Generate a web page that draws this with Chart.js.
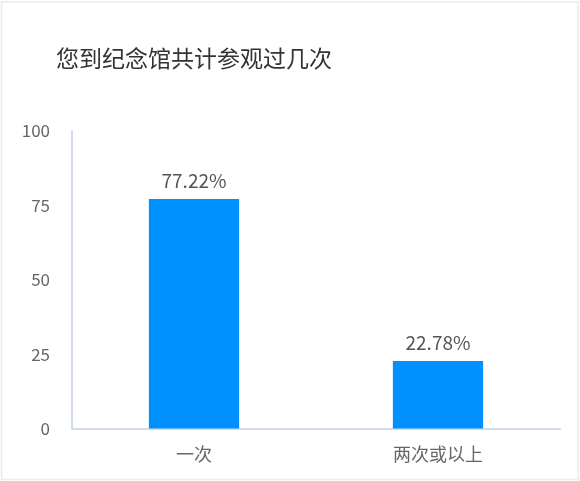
<!DOCTYPE html>
<html>
<head>
<meta charset="utf-8">
<script src="https://cdn.jsdelivr.net/npm/chart.js"></script>
<style>
  html, body { margin: 0; padding: 0; background: #fff; }
  #wrap { width: 580px; height: 481px; }
</style>
</head>
<body>
<div id="wrap"><canvas id="chart" width="580" height="481"></canvas></div>
<script>
const title = '您到纪念馆共计参观过几次';
const categories = ['一次', '两次或以上'];
const percents = [77.22, 22.78];
const yTicks = [0, 25, 50, 75, 100];

const cjk = '"Microsoft YaHei", "Noto Sans CJK SC", "Noto Sans", sans-serif';

// white card with a faint frame, plus the title
const framePlugin = {
  id: 'frame',
  beforeDraw(chart) {
    const ctx = chart.ctx;
    ctx.save();
    ctx.fillStyle = '#fff';
    ctx.fillRect(0, 0, chart.width, chart.height);
    ctx.strokeStyle = '#ececec';
    ctx.lineWidth = 1.5;
    ctx.strokeRect(1.5, 2, chart.width - 3.5, chart.height - 3.5);
    ctx.fillStyle = '#333';
    ctx.font = '23px ' + cjk;
    ctx.textBaseline = 'middle';
    ctx.fillText(title, 56, 58);
    ctx.restore();
  }
};

// percentage labels above the bars
const labelPlugin = {
  id: 'barLabels',
  afterDatasetsDraw(chart) {
    const ctx = chart.ctx;
    const meta = chart.getDatasetMeta(0);
    ctx.save();
    ctx.fillStyle = '#555';
    ctx.font = '19px ' + cjk;
    ctx.textAlign = 'center';
    ctx.textBaseline = 'bottom';
    meta.data.forEach((bar, i) => {
      ctx.fillText(percents[i].toFixed(2) + '%', bar.x, bar.y - 9);
    });
    ctx.restore();
  }
};

new Chart(document.getElementById('chart'), {
  type: 'bar',
  data: {
    labels: categories,
    datasets: [{
      data: percents,
      backgroundColor: '#0091ff',
      borderWidth: 0,
      categoryPercentage: 1,
      barPercentage: 0.37
    }]
  },
  options: {
    responsive: false,
    animation: false,
    devicePixelRatio: 1,
    layout: { padding: { top: 131, right: 20, bottom: 0, left: 0 } },
    plugins: {
      legend: { display: false },
      tooltip: { enabled: false },
      title: { display: false }
    },
    scales: {
      x: {
        grid: { color: 'rgba(0,0,0,0)', drawTicks: false },
        border: { color: '#d3dcec', width: 2 },
        ticks: { color: '#666', font: { size: 18, family: cjk }, padding: 14 },
        afterFit(scale) { scale.height = 52; }
      },
      y: {
        min: 0,
        max: 100,
        afterBuildTicks(scale) { scale.ticks = yTicks.map(v => ({ value: v })); },
        grid: { color: 'rgba(0,0,0,0)', drawTicks: false },
        border: { color: '#d3dcec', width: 2 },
        ticks: { color: '#666', font: { size: 17, family: cjk }, padding: 22 },
        afterFit(scale) { scale.width = 72; }
      }
    }
  },
  plugins: [framePlugin, labelPlugin]
});
</script>
</body>
</html>
